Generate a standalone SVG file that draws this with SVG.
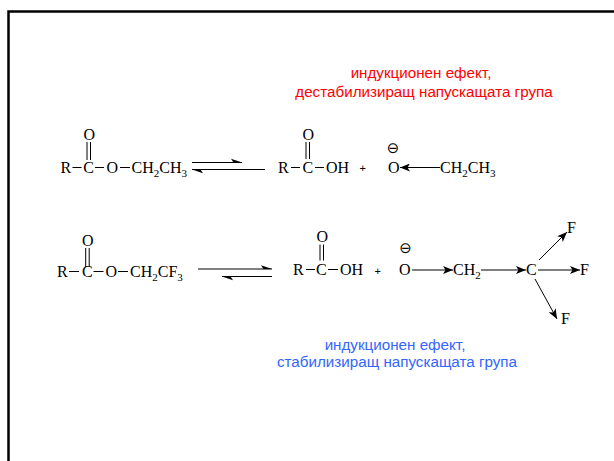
<svg xmlns="http://www.w3.org/2000/svg" width="614" height="461" viewBox="0 0 614 461">
<defs>
<style>
.ch{font-family:"Liberation Serif","Times New Roman",serif;font-size:16px;fill:#000}
.sub{font-size:11px}
.bd{stroke:#000;stroke-width:1;fill:none}
.lbl{font-family:"Liberation Sans",Arial,sans-serif;font-size:15.2px;text-anchor:middle}
.chg{font-family:"DejaVu Sans",sans-serif;font-size:15px;fill:#000;text-anchor:middle}
.pl{font-family:"Liberation Sans",Arial,sans-serif;font-size:11px;fill:#000}
</style>
<marker id="ah" viewBox="0 0 10 8" refX="10" refY="4" markerWidth="10" markerHeight="8" markerUnits="userSpaceOnUse" orient="auto">
<path d="M0,0 L10,4 L0,8 L2.5,4 Z" fill="#000"/>
</marker>
</defs>
<rect width="614" height="461" fill="#fff"/>
<path d="M8.5,461 V11.5 H614" fill="none" stroke="#000" stroke-width="2.5"/>

<g id="label-red">
<text class="lbl" fill="#FF0000" x="421" y="78">индукционен ефект,</text>
<text class="lbl" fill="#FF0000" x="424" y="97">дестабилизиращ напускащата група</text>
</g>

<g id="ester1">
<text class="ch" x="60.5" y="173">R</text>
<line class="bd" x1="72.5" y1="167.5" x2="81.5" y2="167.5"/>
<text class="ch" x="83.3" y="173">C</text>
<line class="bd" x1="95" y1="167.5" x2="104" y2="167.5"/>
<text class="ch" x="106.5" y="173">O</text>
<line class="bd" x1="120" y1="167.5" x2="130" y2="167.5"/>
<text class="ch" x="131.5" y="173">CH<tspan class="sub" dy="4">2</tspan><tspan dy="-4">CH</tspan><tspan class="sub" dy="4">3</tspan></text>
<text class="ch" x="83.5" y="139.5">O</text>
<line class="bd" x1="87" y1="142" x2="87" y2="160"/>
<line class="bd" x1="90.5" y1="142" x2="90.5" y2="160"/>
</g>

<g id="acid1">
<text class="ch" x="278" y="173">R</text>
<line class="bd" x1="291" y1="167.5" x2="300" y2="167.5"/>
<text class="ch" x="302.5" y="173">C</text>
<line class="bd" x1="315" y1="167.5" x2="324" y2="167.5"/>
<text class="ch" x="326" y="173">OH</text>
<text class="ch" x="302.5" y="139.5">O</text>
<line class="bd" x1="306" y1="142" x2="306" y2="159"/>
<line class="bd" x1="309.5" y1="142" x2="309.5" y2="159"/>
</g>
<text class="pl" x="359.5" y="172">+</text>

<g id="alkoxide1">
<text class="chg" x="393" y="152.5">⊖</text>
<text class="ch" x="388" y="173">O</text>
<text class="ch" x="440" y="173">CH<tspan class="sub" dy="4">2</tspan><tspan dy="-4">CH</tspan><tspan class="sub" dy="4">3</tspan></text>
</g>

<g id="ester2">
<text class="ch" x="57" y="277">R</text>
<line class="bd" x1="69" y1="271.5" x2="79" y2="271.5"/>
<text class="ch" x="82" y="277">C</text>
<line class="bd" x1="93.5" y1="271.5" x2="103.5" y2="271.5"/>
<text class="ch" x="105.5" y="277">O</text>
<line class="bd" x1="118" y1="271.5" x2="128" y2="271.5"/>
<text class="ch" x="130" y="277">CH<tspan class="sub" dy="4">2</tspan><tspan dy="-4">CF</tspan><tspan class="sub" dy="4">3</tspan></text>
<text class="ch" x="82" y="245.5">O</text>
<line class="bd" x1="85.7" y1="248" x2="85.7" y2="267"/>
<line class="bd" x1="89.2" y1="248" x2="89.2" y2="267"/>
</g>

<g id="acid2">
<text class="ch" x="293" y="275">R</text>
<line class="bd" x1="306" y1="269.5" x2="315" y2="269.5"/>
<text class="ch" x="316" y="275">C</text>
<line class="bd" x1="328" y1="269.5" x2="338" y2="269.5"/>
<text class="ch" x="340" y="275">OH</text>
<text class="ch" x="316.5" y="242">O</text>
<line class="bd" x1="320" y1="244.5" x2="320" y2="260.5"/>
<line class="bd" x1="323.5" y1="244.5" x2="323.5" y2="260.5"/>
</g>
<text class="pl" x="374.5" y="275">+</text>

<g id="alkoxide2">
<text class="chg" x="405.5" y="253">⊖</text>
<text class="ch" x="399" y="275">O</text>
<text class="ch" x="453" y="275">CH<tspan class="sub" dy="4">2</tspan></text>
<text class="ch" x="526" y="275">C</text>
<text class="ch" x="567" y="233">F</text>
<text class="ch" x="580" y="275">F</text>
<text class="ch" x="561" y="324">F</text>
</g>

<g id="label-blue">
<text class="lbl" fill="#3366FF" x="395" y="350">индукционен ефект,</text>
<text class="lbl" fill="#3366FF" x="397" y="367">стабилизиращ напускащата група</text>
</g>

<g id="connectors">
<line class="bd" x1="192" y1="162.5" x2="242" y2="162.5"/>
<path d="M242,162.5 L231,158.8 L233.5,162.5 Z" fill="#000"/>
<line class="bd" x1="192" y1="169.5" x2="265" y2="169.5"/>
<path d="M192,169.5 L203,173.2 L200.5,169.5 Z" fill="#000"/>
<line class="bd" x1="198" y1="269" x2="272" y2="269"/>
<path d="M272,269 L261,265.3 L263.5,269 Z" fill="#000"/>
<line class="bd" x1="222" y1="276.5" x2="272" y2="276.5"/>
<path d="M222,276.5 L233,280.2 L230.5,276.5 Z" fill="#000"/>
<line class="bd" x1="440" y1="167.5" x2="400" y2="167.5" marker-end="url(#ah)"/>
<line class="bd" x1="412" y1="270" x2="453" y2="270" marker-end="url(#ah)"/>
<line class="bd" x1="481" y1="270" x2="526" y2="270" marker-end="url(#ah)"/>
<line class="bd" x1="539" y1="260" x2="567" y2="232" marker-end="url(#ah)"/>
<line class="bd" x1="538" y1="270" x2="580" y2="270" marker-end="url(#ah)"/>
<line class="bd" x1="535" y1="279" x2="557" y2="319" marker-end="url(#ah)"/>
</g>
</svg>
